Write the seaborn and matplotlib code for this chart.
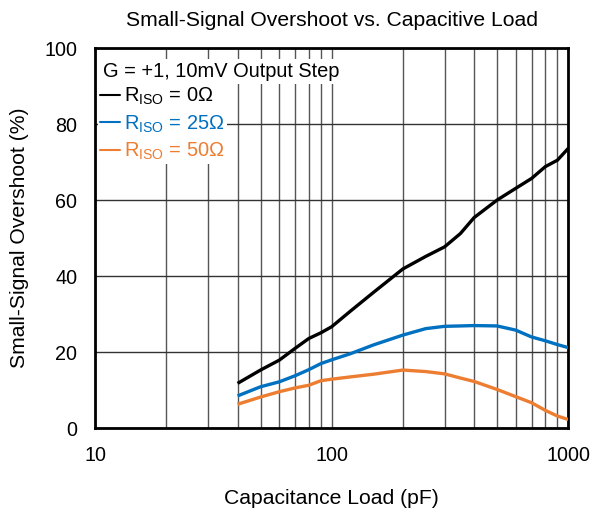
import numpy as np
import pandas as pd
import seaborn as sns
import matplotlib.pyplot as plt
from matplotlib.ticker import FixedLocator, NullFormatter

cap_pf = [40, 50, 60, 70, 80, 90, 100, 120, 150, 200, 250, 300, 350, 400, 500, 600, 700, 800, 900, 1000]
ovs_0 = [11.8, 15.3, 17.9, 21.0, 23.6, 25.1, 26.7, 30.8, 35.7, 41.9, 45.2, 47.7, 51.2, 55.4, 60.0, 63.1, 65.7, 68.8, 70.5, 73.6]
ovs_25 = [8.5, 10.9, 12.2, 13.8, 15.4, 17.0, 18.0, 19.6, 21.9, 24.5, 26.2, 26.8, 26.9, 27.0, 26.9, 25.8, 24.0, 23.0, 22.0, 21.2]
ovs_50 = [6.3, 8.2, 9.6, 10.6, 11.3, 12.5, 12.9, 13.5, 14.2, 15.3, 14.9, 14.3, 13.2, 12.3, 10.2, 8.3, 6.7, 4.7, 3.2, 2.3]

labels = [r'R$_{\mathrm{ISO}}$ = 0Ω', r'R$_{\mathrm{ISO}}$ = 25Ω', r'R$_{\mathrm{ISO}}$ = 50Ω']
colors = ['#000000', '#0070C0', '#ED7D31']

df = pd.DataFrame({
    'cap': cap_pf * 3,
    'ovs': ovs_0 + ovs_25 + ovs_50,
    'riso': [labels[0]] * len(cap_pf) + [labels[1]] * len(cap_pf) + [labels[2]] * len(cap_pf),
})

sns.set_style('white')
plt.rcParams['font.family'] = ['Liberation Sans', 'DejaVu Sans']
plt.rcParams['mathtext.fontset'] = 'custom'
plt.rcParams['mathtext.rm'] = 'Liberation Sans'
plt.rcParams['text.color'] = 'black'
plt.rcParams['axes.labelcolor'] = 'black'
plt.rcParams['xtick.color'] = 'black'
plt.rcParams['ytick.color'] = 'black'

fig = plt.figure(figsize=(5.95, 5.11), dpi=100)
ax = fig.add_axes([0.160, 0.162, 0.795, 0.744])

sns.lineplot(data=df, x='cap', y='ovs', hue='riso', palette=colors, linewidth=2.4,
             legend=False, ax=ax, zorder=3)
for ln in ax.get_lines():
    ln.set_solid_joinstyle('round')
    ln.set_solid_capstyle('butt')

ax.set_xscale('log')
ax.set_xlim(10, 1000)
ax.set_ylim(0, 100)
ax.set_yticks([0, 20, 40, 60, 80, 100])
ax.set_xticks([10, 100, 1000])
ax.set_xticklabels(['10', '100', '1000'])
minors = [m * d for d in (10, 100) for m in range(2, 10)]
ax.xaxis.set_minor_locator(FixedLocator(minors))
ax.xaxis.set_minor_formatter(NullFormatter())
ax.grid(True, axis='x', which='both', color='#555555', linewidth=1.0)
ax.grid(True, axis='y', which='major', color='#333333', linewidth=1.0)
ax.tick_params(axis='both', which='both', length=0, labelsize=14.2, pad=13,
               labelcolor='black')
for s in ax.spines.values():
    s.set_color('black')
    s.set_linewidth(2)

ax.set_xlabel('Capacitance Load (pF)', fontsize=15.2, labelpad=17, color='black')
ax.set_ylabel('Small-Signal Overshoot (%)', fontsize=15.2, labelpad=11, color='black')
ax.set_title('Small-Signal Overshoot vs. Capacitive Load', fontsize=15.2, pad=16,
             color='black')

# legend block
ax.text(0.017, 0.924, 'G = +1, 10mV Output Step', transform=ax.transAxes, fontsize=14.4,
        va='baseline', ha='left', zorder=5, color='black',
        bbox=dict(facecolor='white', edgecolor='none', pad=2))
handles = [plt.Line2D([], [], color=c, linewidth=1.5) for c in colors]
leg = ax.legend(handles, labels, loc='upper left', bbox_to_anchor=(0.006, 0.905),
                frameon=True, fontsize=14.4, handlelength=1.0, handletextpad=0.2,
                labelspacing=0.3, borderaxespad=0.0, borderpad=0.1)
leg.get_frame().set_edgecolor('none')
leg.get_frame().set_facecolor('white')
leg.get_frame().set_alpha(1)
leg.get_frame().set_boxstyle('square', pad=0)
for t, c in zip(leg.get_texts(), colors):
    t.set_color(c)

fig.savefig('out.png', dpi=100)
